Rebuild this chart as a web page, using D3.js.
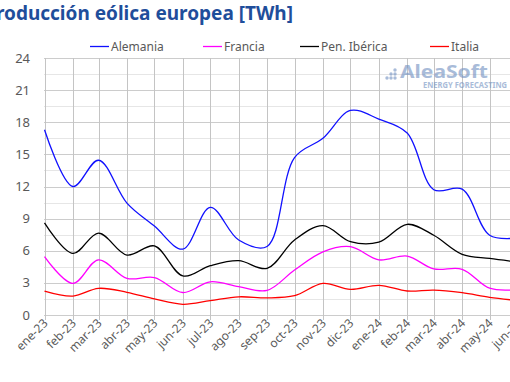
<!DOCTYPE html>
<html><head><meta charset="utf-8">
<script src="https://cdn.jsdelivr.net/npm/d3@7"></script>
<style>
html,body{margin:0;padding:0;background:#fff;overflow:hidden;}
text{font-family:"Noto Sans","Open Sans",sans-serif;}
</style></head>
<body>
<svg id="c" width="510" height="382"></svg>
<script>
const months = ["ene-23","feb-23","mar-23","abr-23","may-23","jun-23","jul-23","ago-23","sep-23","oct-23","nov-23","dic-23","ene-24","feb-24","mar-24","abr-24","may-24","jun-24"];
const monthDates = ["2023-01-01","2023-02-01","2023-03-01","2023-04-01","2023-05-01","2023-06-01","2023-07-01","2023-08-01","2023-09-01","2023-10-01","2023-11-01","2023-12-01","2024-01-01","2024-02-01","2024-03-01","2024-04-01","2024-05-01","2024-06-01"];
const alemania = [17.3,12.0,14.45,10.45,8.3,6.15,10.05,7.0,6.4,14.7,16.5,19.1,18.3,17.0,11.7,11.75,7.45,7.2];
const francia  = [5.45,2.95,5.15,3.42,3.5,2.1,3.1,2.65,2.3,4.2,5.9,6.38,5.15,5.5,4.3,4.27,2.5,2.38];
const iberica  = [8.6,5.75,7.65,5.6,6.45,3.65,4.6,5.07,4.35,7.0,8.35,6.85,6.8,8.47,7.45,5.67,5.28,4.95];
const italia   = [2.24,1.77,2.49,2.12,1.5,1.0,1.34,1.7,1.6,1.8,2.95,2.4,2.77,2.24,2.33,2.08,1.65,1.35];
const yTicks = [0,3,6,9,12,15,18,21,24];
const seriesNames = ["Alemania","Francia","Pen. Ibérica","Italia"];
const seriesColors = ["#1010ff","#ff00ff","#000000","#ff0000"];
const seriesData = [alemania, francia, iberica, italia];

const svg = d3.select("#c");
const parse = d3.timeParse("%Y-%m-%d");
const dates = monthDates.map(parse);
const x = d3.scaleTime().domain([dates[0], dates[dates.length-1]]).range([44.5, 518]);
const y = d3.scaleLinear().domain([0,24]).range([315,58]);

// minor grid
const minor = d3.range(1.5,24,3);
svg.append("g").selectAll("line").data(minor).join("line")
  .attr("x1",44).attr("x2",510).attr("y1",d=>Math.round(y(d))+0.5).attr("y2",d=>Math.round(y(d))+0.5)
  .attr("stroke","#e6e6e6").attr("stroke-width",1);
// major grid
svg.append("g").selectAll("line").data(yTicks).join("line")
  .attr("x1",44).attr("x2",510).attr("y1",d=>Math.round(y(d))+0.5).attr("y2",d=>Math.round(y(d))+0.5)
  .attr("stroke","#cccccc").attr("stroke-width",1);
// vertical grid
svg.append("g").selectAll("line").data(dates).join("line")
  .attr("x1",d=>Math.round(x(d))+0.5).attr("x2",d=>Math.round(x(d))+0.5).attr("y1",58).attr("y2",320)
  .attr("stroke","#c4c4c4").attr("stroke-width",1);

// y labels
svg.append("g").selectAll("text").data(yTicks).join("text")
  .attr("x",30).attr("y",d=>y(d)+4.5).attr("text-anchor","end")
  .attr("font-size",13).attr("fill","#595959").text(d=>d);

// x labels
svg.append("g").selectAll("text").data(dates).join("text")
  .attr("text-anchor","end").attr("font-size",12).attr("fill","#595959")
  .attr("transform",(d)=>`translate(${x(d)+4},${324}) rotate(-45)`)
  .text((d,i)=>months[i]);

// logo
const logo = svg.append("g").attr("opacity",0.6);
const dots = [[387,78],[391,78],[395,78],[391,74],[395,74],[395,70]];
logo.selectAll("circle").data(dots).join("circle").attr("cx",d=>d[0]).attr("cy",d=>d[1]).attr("r",1.7).attr("fill","#6f8fc0");
logo.append("text").attr("x",400).attr("y",78).attr("font-size",18).attr("font-weight","bold")
  .attr("textLength",88).attr("lengthAdjust","spacingAndGlyphs")
  .attr("fill","#6f8fc0").attr("font-family","Liberation Sans, Arial, sans-serif").text("AleaSoft");
logo.append("text").attr("x",423).attr("y",88).attr("font-size",9).attr("font-weight","bold")
  .attr("textLength",84).attr("lengthAdjust","spacingAndGlyphs")
  .attr("fill","#6f8fc0").attr("font-family","Liberation Sans, Arial, sans-serif").text("ENERGY FORECASTING");

// lines
const line = d3.line().x((d,i)=>x(dates[i])).y(d=>y(d)).curve(d3.curveCatmullRom.alpha(0.5));
seriesData.forEach((s,k)=>{
  svg.append("path").datum(s).attr("d",line).attr("fill","none")
    .attr("stroke",seriesColors[k]).attr("stroke-width",1.3);
});

// legend
const legX = [90,203,300,430];
seriesNames.forEach((n,k)=>{
  svg.append("line").attr("x1",legX[k]).attr("x2",legX[k]+19).attr("y1",46.5).attr("y2",46.5)
    .attr("stroke",seriesColors[k]).attr("stroke-width",1.3);
  svg.append("text").attr("x",legX[k]+21).attr("y",51).attr("font-size",12).attr("fill","#595959").text(n);
});

// title
svg.append("text").attr("x",293).attr("y",20).attr("text-anchor","end")
  .attr("font-size",19).attr("font-weight","bold").attr("fill","#1f4e9b")
  .text("Producción eólica europea [TWh]");
</script>
</body></html>
